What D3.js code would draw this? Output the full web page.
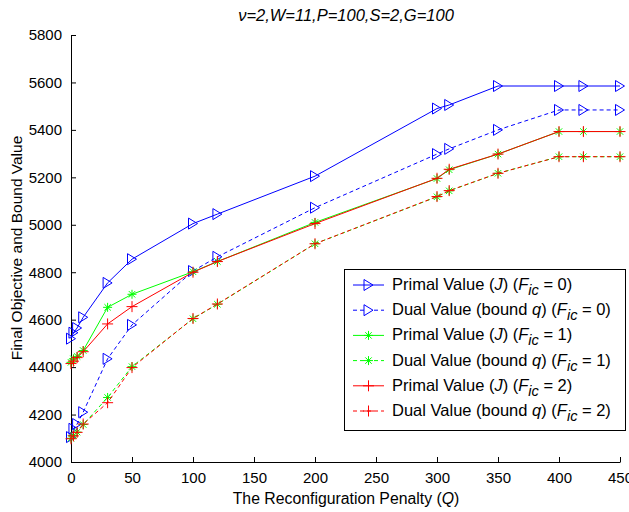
<!DOCTYPE html>
<html><head><meta charset="utf-8">
<script src="https://cdn.jsdelivr.net/npm/d3@7"></script>
<style>
body{margin:0;background:#fff;}
svg{display:block;font-family:"Liberation Sans",Arial,sans-serif;}
</style></head>
<body>
<svg id="chart" width="629" height="512"></svg>
<script>
// ---- data ----
const xValues = [0, 2, 5, 10, 30, 50, 100, 120, 200, 300, 310, 350, 400, 420, 450];
const primalF0 = [4520, 4545, 4565, 4610, 4755, 4855, 5005, 5045, 5205, 5490, 5505, 5585, 5585, 5585, 5585];
const dualF0   = [4105, 4140, 4160, 4210, 4435, 4578, 4805, 4865, 5072, 5298, 5320, 5400, 5484, 5484, 5484];
const primalF1 = [4420, 4435, 4445, 4470, 4652, 4707, 4802, 4845, 5010, 5195, 5232, 5298, 5393, 5393, 5393];
const dualF1   = [4100, 4112, 4126, 4158, 4272, 4402, 4604, 4665, 4920, 5118, 5143, 5217, 5287, 5287, 5287];
const primalF2 = [4415, 4425, 4440, 4465, 4582, 4655, 4800, 4845, 5005, 5196, 5234, 5298, 5393, 5393, 5393];
const dualF2   = [4098, 4110, 4125, 4160, 4250, 4398, 4605, 4666, 4920, 5119, 5144, 5217, 5287, 5287, 5287];
const xTicks = [0, 50, 100, 150, 200, 250, 300, 350, 400, 450];
const yTicks = [4000, 4200, 4400, 4600, 4800, 5000, 5200, 5400, 5600, 5800];
const seriesKinds = ["primal", "dual", "primal", "dual", "primal", "dual"];
const seriesFic = ["0", "0", "1", "1", "2", "2"];

// ---- styles ----
const series = [
  {values: primalF0, color: "#0000ff", dash: null, marker: "tri"},
  {values: dualF0,   color: "#0000ff", dash: "4,3", marker: "tri"},
  {values: primalF1, color: "#00ff00", dash: null, marker: "star"},
  {values: dualF1,   color: "#00ff00", dash: "4,3", marker: "star"},
  {values: primalF2, color: "#ff0000", dash: null, marker: "plus"},
  {values: dualF2,   color: "#ff0000", dash: "4,3", marker: "plus"}
].map((s, i) => Object.assign(s, {kind: seriesKinds[i], fic: seriesFic[i]}));

const svg = d3.select("#chart");
const x = d3.scaleLinear().domain([0, 450]).range([71, 620]);
const y = d3.scaleLinear().domain([4000, 5800]).range([462, 35]);

function markerPath(type) {
  if (type === "tri") return "M-4.5,-5.5L4.5,0L-4.5,5.5Z";
  if (type === "plus") return "M-5.5,0H5.5M0,-5.5V5.5";
  return "M-4.5,0H4.5M0,-4.5V4.5M-3.2,-3.2L3.2,3.2M-3.2,3.2L3.2,-3.2";
}

// axes
const fmt = d3.format("d");
const gx = svg.append("g").attr("transform", "translate(0,462)")
  .call(d3.axisBottom(x).tickValues(xTicks).tickFormat(fmt).tickSize(-5).tickSizeOuter(0).tickPadding(10));
const gy = svg.append("g").attr("transform", "translate(71,0)")
  .call(d3.axisLeft(y).tickValues(yTicks).tickFormat(fmt).tickSize(-5).tickSizeOuter(0).tickPadding(9));
[gx, gy].forEach(g => {
  g.selectAll("text").attr("font-size", 15).attr("font-family", "Liberation Sans, Arial, sans-serif").attr("fill", "#000");
  g.selectAll("line,path").attr("stroke", "#000");
});

// lines
const line = d3.line().x((d, i) => x(xValues[i])).y(d => y(d));
const gl = svg.append("g");
series.forEach(s => {
  gl.append("path").datum(s.values).attr("d", line)
    .attr("fill", "none").attr("stroke", s.color).attr("stroke-width", 1)
    .attr("stroke-dasharray", s.dash);
  gl.selectAll(null).data(s.values).enter().append("path")
    .attr("transform", (d, i) => `translate(${x(xValues[i])},${y(d)})`)
    .attr("d", markerPath(s.marker))
    .attr("fill", "none").attr("stroke", s.color).attr("stroke-width", 1);
});

// title
svg.append("text").attr("x", 346).attr("y", 21).attr("text-anchor", "middle")
  .attr("font-size", 16.5).attr("font-style", "italic")
  .text("ν=2,W=11,P=100,S=2,G=100");

// axis labels
const xl = svg.append("text").attr("x", 346).attr("y", 504).attr("text-anchor", "middle").attr("font-size", 15.8);
xl.append("tspan").text("The Reconfiguration Penalty (");
xl.append("tspan").attr("font-style", "italic").text("Q");
xl.append("tspan").text(")");
svg.append("text").attr("transform", "translate(22,248) rotate(-90)").attr("text-anchor", "middle")
  .attr("font-size", 15.5).text("Final Objective and Bound Value");

// legend
const lg = svg.append("g");
lg.append("rect").attr("x", 344.5).attr("y", 269.5).attr("width", 281).attr("height", 161)
  .attr("fill", "#fff").attr("stroke", "#000");
series.forEach((s, i) => {
  const yy = 285 + i * 25.2;
  lg.append("line").attr("x1", 353).attr("x2", 384).attr("y1", yy).attr("y2", yy)
    .attr("stroke", s.color).attr("stroke-dasharray", s.dash);
  lg.append("path").attr("transform", `translate(368.5,${yy})`).attr("d", markerPath(s.marker))
    .attr("fill", s.dash ? "#fff" : "none").attr("stroke", s.color);
  const t = lg.append("text").attr("x", 392).attr("y", yy + 5).attr("font-size", 16.5);
  if (s.kind === "primal") {
    t.append("tspan").text("Primal Value (");
    t.append("tspan").attr("font-style", "italic").text("J");
    t.append("tspan").text(") (");
  } else {
    t.append("tspan").text("Dual Value (bound ");
    t.append("tspan").attr("font-style", "italic").text("q");
    t.append("tspan").text(") (");
  }
  t.append("tspan").attr("font-style", "italic").text("F");
  t.append("tspan").attr("font-style", "italic").attr("dy", 5).attr("font-size", 14.5).text("ic");
  t.append("tspan").attr("dy", -5).text(" = " + s.fic + ")");
});
</script>
</body></html>
